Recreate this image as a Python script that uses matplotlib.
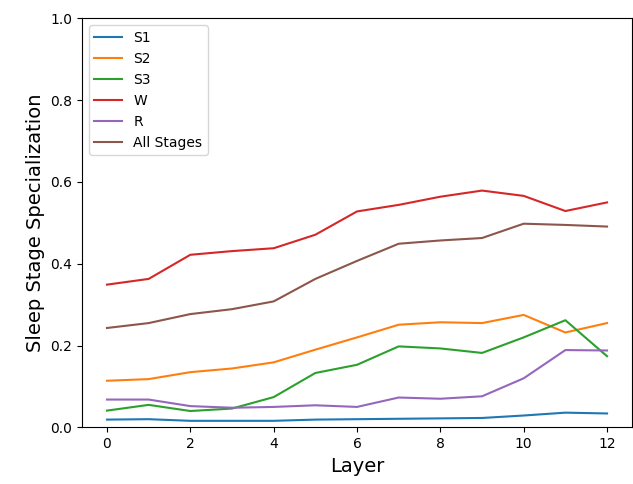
import matplotlib.pyplot as plt

layers = list(range(13))

s1 = [0.019, 0.020, 0.016, 0.016, 0.016, 0.019, 0.020, 0.021, 0.022, 0.023, 0.029, 0.036, 0.034]
s2 = [0.114, 0.118, 0.135, 0.144, 0.159, 0.190, 0.220, 0.251, 0.257, 0.255, 0.275, 0.232, 0.255]
s3 = [0.041, 0.055, 0.040, 0.046, 0.074, 0.133, 0.153, 0.198, 0.193, 0.182, 0.220, 0.262, 0.174]
w = [0.349, 0.363, 0.422, 0.431, 0.438, 0.471, 0.528, 0.544, 0.564, 0.579, 0.566, 0.529, 0.550]
r = [0.068, 0.068, 0.052, 0.048, 0.050, 0.054, 0.050, 0.073, 0.070, 0.076, 0.120, 0.189, 0.188]
all_stages = [0.243, 0.255, 0.277, 0.289, 0.308, 0.363, 0.407, 0.449, 0.457, 0.463, 0.498, 0.495, 0.491]

series = [("S1", s1), ("S2", s2), ("S3", s3), ("W", w), ("R", r), ("All Stages", all_stages)]

fig = plt.figure(figsize=(6.33, 4.84), dpi=100)
ax = fig.add_axes([0.1295, 0.117, 0.869, 0.845])

for name, vals in series:
    ax.plot(layers, vals, label=name)

ax.set_ylim(0, 1.0)
ax.set_xlabel("Layer", fontsize=14)
ax.set_ylabel("Sleep Stage Specialization", fontsize=14)
ax.legend(loc="upper left")

fig.savefig("out.png", dpi=100)
